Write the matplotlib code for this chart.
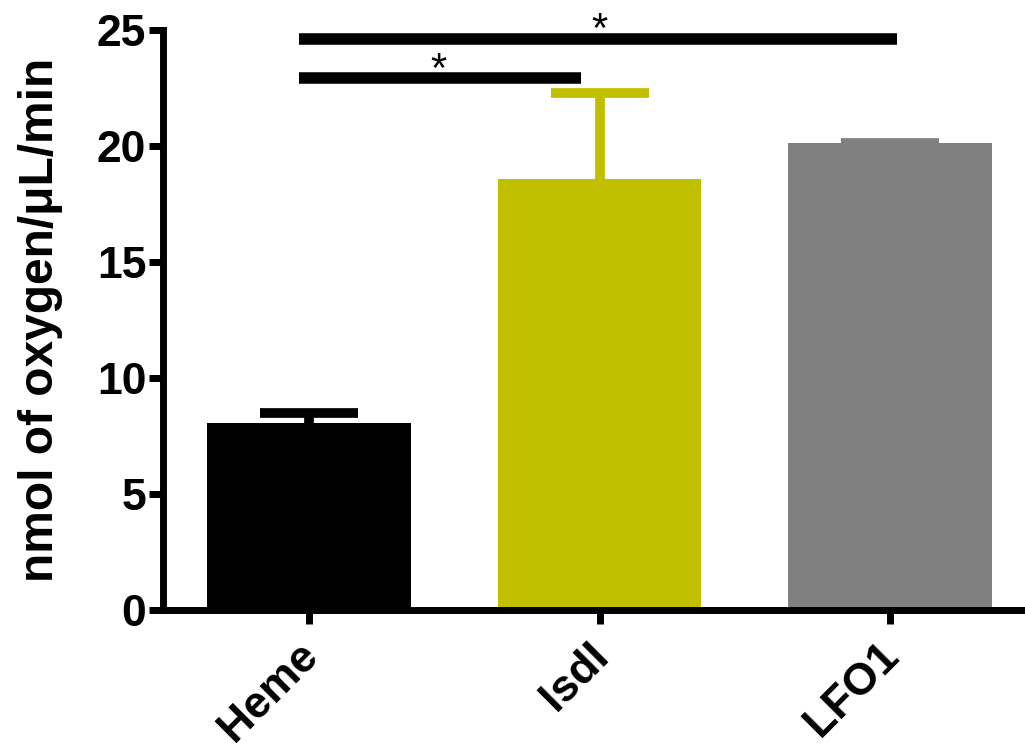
import matplotlib.pyplot as plt
import matplotlib.transforms as mtransforms

plt.rcParams['font.family'] = ['Liberation Sans', 'DejaVu Sans']

samples = ["Heme", "IsdI", "LFO1"]
rates = [8.07, 18.56, 20.12]
errors = [0.42, 3.73, 0.02]
bar_colors = ["#000000", "#C0C000", "#808080"]

# significance brackets: (x start, x end, y, star x, star y)
sig_lines = [(-0.034, 2.024, 24.63, 1.0, 24.95), (-0.034, 0.936, 22.95, 0.444, 23.25)]

fig = plt.figure(figsize=(10.25, 7.44), dpi=100)
ax = fig.add_axes([0.159, 0.180, 0.841, 0.7796])

x = list(range(len(samples)))
for xi, r, e, c in zip(x, rates, errors, bar_colors):
    _, caps, _ = ax.errorbar(xi, r, yerr=[[0], [e]], fmt="none", ecolor=c,
                             elinewidth=7, capsize=35, capthick=7, zorder=1)
    caps[0].remove()  # only the upper cap, like the original
ax.bar(x, rates, width=0.7, color=bar_colors, zorder=2)

for x0, x1, y, sx, sy in sig_lines:
    ax.plot([x0, x1], [y, y], color="black", lw=8.3, solid_capstyle="butt",
            clip_on=False, zorder=3)
    ax.text(sx, sy, "*", ha="center", va="center", fontsize=30, clip_on=False)

ax.set_xlim(-0.503, 2.465)
ax.set_ylim(0, 25)
ax.set_yticks([0, 5, 10, 15, 20, 25])
ax.tick_params(axis="y", labelsize=32, width=5, length=10, pad=2)
ax.tick_params(axis="x", width=5, length=10, pad=8)
for lab in ax.get_yticklabels():
    lab.set_fontweight("bold")

ax.set_xticks(x)
ax.set_xticklabels(samples, rotation=45, ha="right", va="top",
                   rotation_mode="anchor", fontsize=32, fontweight="bold")
shift = mtransforms.ScaledTranslation(-0.12, 0.0, fig.dpi_scale_trans)
for lab in ax.get_xticklabels():
    lab.set_transform(lab.get_transform() + shift)

for side in ["top", "right"]:
    ax.spines[side].set_visible(False)
for side in ["left", "bottom"]:
    ax.spines[side].set_linewidth(5)

ax.set_ylabel("nmol of oxygen/μL/min", fontsize=34.5, fontweight="bold", labelpad=24)

fig.savefig("out.png", dpi=100)
